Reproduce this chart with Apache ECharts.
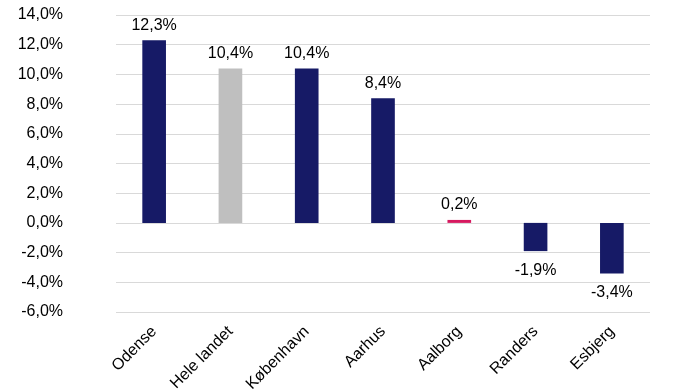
<!DOCTYPE html>
<html><head><meta charset="utf-8">
<script src="https://cdn.jsdelivr.net/npm/echarts@6/dist/echarts.min.js"></script>
<style>html,body{margin:0;padding:0;background:#fff}#c{width:700px;height:392px}</style>
</head><body><div id="c"></div>
<script>
const categories = ["Odense","Hele landet","København","Aarhus","Aalborg","Randers","Esbjerg"];
const values = [12.3, 10.4, 10.4, 8.4, 0.2, -1.9, -3.4];
const barColors = ["#161a66","#bfbfbf","#161a66","#161a66","#d6195f","#161a66","#161a66"];
const yMin = -6, yMax = 14, yStep = 2;

const fmt = v => v.toFixed(1).replace('.', ',') + '%';
const font = 'Liberation Sans, Arial, sans-serif';

const chart = echarts.init(document.getElementById('c'), null, {renderer:'canvas'});
chart.setOption({
  animation:false,
  grid:{left:116,right:50,top:15,bottom:80,containLabel:false,outerBoundsMode:'none'},
  xAxis:{type:'category',data:categories,
    axisLine:{show:false},axisTick:{show:false},
    axisLabel:{rotate:45,margin:17,fontSize:16,color:'#000',fontFamily:font,interval:0}},
  yAxis:{type:'value',min:yMin,max:yMax,interval:yStep,
    axisLine:{show:false},axisTick:{show:false},
    splitLine:{lineStyle:{color:'#d9d9d9',width:1}},
    axisLabel:{formatter:v=>fmt(v),fontSize:16,color:'#000',fontFamily:font,margin:53}},
  series:[{type:'bar',barWidth:'31%',
    data:values.map((v,i)=>({value:v,itemStyle:{color:barColors[i]},
      label:{show:true,position:v>=0?'top':'bottom',distance:v>=0?7:11,
        formatter:p=>fmt(p.value),fontSize:16,color:'#000',fontFamily:font}}))}]
});
</script></body></html>
